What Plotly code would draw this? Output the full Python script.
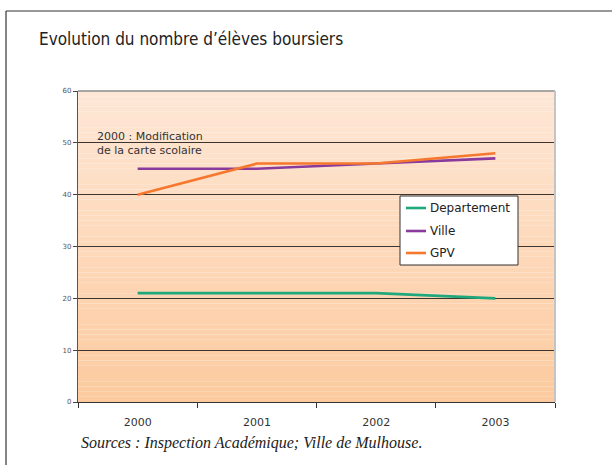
import plotly.graph_objects as go

# Données : nombre d'élèves boursiers
annees = ["2000", "2001", "2002", "2003"]
departement = [21, 21, 21, 20]
ville = [45, 45, 46, 47]
gpv = [40, 46, 46, 48]

W, H = 612, 465
L, R, T, B = 78, 57, 91, 63
PW, PH = W - L - R, H - T - B


def px_x(px):
    return (px - L) / PW


def px_y(py):
    return (H - B - py) / PH


fig = go.Figure()
series = [
    ("Departement", departement, "#1fa87c"),
    ("Ville", ville, "#8a3a9c"),
    ("GPV", gpv, "#f6782e"),
]
for name, vals, col in series:
    fig.add_trace(go.Scatter(x=annees, y=vals, name=name, mode="lines",
                             line=dict(color=col, width=2.6), showlegend=False))

# dégradé de fond de la zone de tracé
shapes = []
n = 60
top = (254, 231, 214)
bot = (252, 202, 158)
for i in range(n):
    t = (i + 0.5) / n
    c = tuple(round(bot[k] + (top[k] - bot[k]) * t) for k in range(3))
    shapes.append(dict(type="rect", xref="x domain", yref="y domain",
                       x0=0, x1=1, y0=i / n, y1=(i + 1) / n,
                       line=dict(width=0), fillcolor="rgb(%d,%d,%d)" % c,
                       layer="below"))
# bordures de la zone de tracé
shapes.append(dict(type="line", xref="x domain", yref="y domain", x0=0, x1=1, y0=1, y1=1,
                   line=dict(color="#8c8c8c", width=1.5)))
shapes.append(dict(type="line", xref="x domain", yref="y domain", x0=1, x1=1, y0=0, y1=1,
                   line=dict(color="#c4c4c4", width=2)))
# cadre extérieur (gauche et haut)
shapes.append(dict(type="line", xref="paper", yref="paper",
                   x0=px_x(6), x1=px_x(6), y0=px_y(11), y1=px_y(470),
                   line=dict(color="#333333", width=1.2)))
shapes.append(dict(type="line", xref="paper", yref="paper",
                   x0=px_x(6), x1=px_x(620), y0=px_y(11), y1=px_y(11),
                   line=dict(color="#333333", width=1.2)))

annotations = [
    dict(text="Evolution du nombre d’élèves boursiers", xref="paper", yref="paper",
         x=px_x(37), y=px_y(39), xanchor="left", yanchor="middle", showarrow=False,
         font=dict(family="DejaVu Sans Condensed, Liberation Sans Narrow, Roboto, sans-serif",
                   size=17, color="#222222")),
    dict(text="2000 : Modification<br>de la carte scolaire", xref="paper", yref="paper",
         x=px_x(95), y=px_y(128), xanchor="left", yanchor="top", showarrow=False,
         align="left", font=dict(family="DejaVu Sans", size=11, color="#333333")),
    dict(text="<i>Sources : Inspection Académique; Ville de Mulhouse.</i>",
         xref="paper", yref="paper", x=px_x(79), y=px_y(443),
         xanchor="left", yanchor="middle", showarrow=False,
         font=dict(family="Liberation Serif", size=16, color="#222222")),
]

# légende : cadre blanc, échantillons de trait et libellés
box_l, box_r, box_t, box_b = 400, 518, 196, 265
shapes.append(dict(type="rect", xref="paper", yref="paper",
                   x0=px_x(box_l), x1=px_x(box_r), y0=px_y(box_b), y1=px_y(box_t),
                   fillcolor="white", line=dict(color="#333333", width=1)))
rows = [208, 231, 253]
for (name, vals, col), ry in zip(series, rows):
    shapes.append(dict(type="line", xref="paper", yref="paper",
                       x0=px_x(406), x1=px_x(426), y0=px_y(ry), y1=px_y(ry),
                       line=dict(color=col, width=2.6)))
    annotations.append(dict(text=name, xref="paper", yref="paper",
                            x=px_x(428), y=px_y(ry), xanchor="left", yanchor="middle",
                            showarrow=False,
                            font=dict(family="DejaVu Sans", size=12, color="#222222")))

fig.update_layout(
    width=W, height=H,
    margin=dict(l=L, r=R, t=T, b=B),
    paper_bgcolor="white", plot_bgcolor="rgba(0,0,0,0)",
    shapes=shapes, annotations=annotations,
    showlegend=False,
    xaxis=dict(type="category", range=[-0.5, 3.5], tickson="boundaries",
               ticks="outside", ticklen=5,
               tickcolor="#333333", showline=True, linecolor="#333333", linewidth=1.2,
               showgrid=False, ticklabelstandoff=10,
               tickfont=dict(family="DejaVu Sans", size=11, color="#333333")),
    yaxis=dict(range=[0, 60], dtick=10, ticks="outside", ticklen=4,
               tickcolor="#444444", showline=True, linecolor="#555555", linewidth=1.2,
               showgrid=True, gridcolor="#3c3530", gridwidth=1, zeroline=False,
               tickfont=dict(family="DejaVu Sans", size=7, color="#555555")),
)

fig.write_html("out.html")
